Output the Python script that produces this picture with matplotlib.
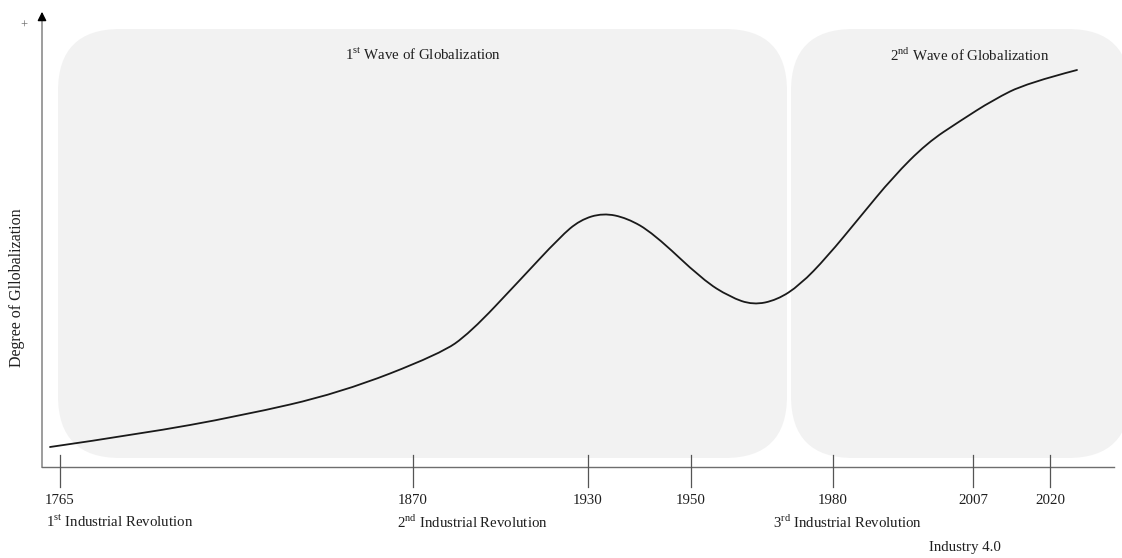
import matplotlib.pyplot as plt
from matplotlib.patches import FancyBboxPatch, PathPatch
from matplotlib.path import Path

# Fonte tipo Times (Liberation Serif) também para os sobrescritos
plt.rcParams['font.family'] = ['Liberation Serif', 'DejaVu Serif']
plt.rcParams['mathtext.fontset'] = 'custom'
plt.rcParams['mathtext.rm'] = 'Liberation Serif'

# Posição ao longo da linha do tempo (esquemática) e grau de globalização
curve_t = [8, 98, 198, 298, 398, 428, 478, 518, 538, 561, 585, 611,
           661, 688, 711, 735, 758, 785, 818, 851, 885, 918, 951, 985, 1035]
curve_g = [20, 33, 51, 74, 113, 134, 187, 230, 247, 254, 249, 234,
           187, 170, 162, 167, 182, 210, 250, 290, 324, 346, 367, 384, 397]

# Marcos do eixo x
tick_years = ['1765', '1870', '1930', '1950', '1980', '2007', '2020']
tick_t = [18, 371, 546, 649, 791, 931, 1008]

# Eventos (ano de referência, texto)
revolutions = [
    ('1765', r'1$^{\mathrm{st}}$ Industrial Revolution', 'left', -14, -55),
    ('1870', r'2$^{\mathrm{nd}}$ Industrial Revolution', 'left', -16, -55),
    ('1980', r'3$^{\mathrm{rd}}$ Industrial Revolution', 'center', 15, -55),
    ('2007', 'Industry 4.0', 'center', -8, -80),
]

# Ondas de globalização: (início, fim, título)
waves = [
    (16, 745, r'1$^{\mathrm{st}}$ Wave of Globalization'),
    (749, 1088, r'2$^{\mathrm{nd}}$ Wave of Globalization'),
]

fig = plt.figure(figsize=(11.22, 5.58), dpi=100)
ax = fig.add_axes([0, 0, 1, 1])
ax.set_xlim(-42, 1080)
ax.set_ylim(-91, 467)
ax.axis('off')

txt = '#1f1f1f'
fs = 10.7

# Caixas arredondadas
for ini, fim, titulo in waves:
    box = FancyBboxPatch((ini, 9), fim - ini, 429,
                         boxstyle='round,pad=0,rounding_size=62',
                         fc='#f2f2f2', ec='none', zorder=0)
    ax.add_patch(box)
    ax.text((ini + fim) / 2 if fim < 1080 else 928, 412, titulo,
            ha='center', va='center', fontsize=fs, color=txt)

# Eixos com setas
ax.plot([0, 0], [0, 450], color='#8c8c8c', lw=1.2, zorder=2)
ax.annotate('', xy=(0, 458), xytext=(0, 446),
            arrowprops=dict(arrowstyle='-|>', color='black', lw=1,
                            mutation_scale=13))
ax.plot([0, 1072], [0, 0], color='#6e6e6e', lw=1.0, zorder=2)
ax.annotate('', xy=(1081, 0), xytext=(1070, 0),
            arrowprops=dict(arrowstyle='-|>', color='black', lw=1,
                            mutation_scale=10))
ax.text(-18, 441, '+', ha='center', va='center', fontsize=9, color='#666666')
ax.text(-25, 179, 'Degree of Gllobalization', rotation=90,
        ha='center', va='center', fontsize=11.5, color=txt)

# Marcas e anos
for ano, t in zip(tick_years, tick_t):
    ax.plot([t, t], [12, -20], color='#555555', lw=0.9, zorder=2)
    ax.text(t, -34, ano, ha='center', va='center', fontsize=fs, color=txt)

for ano, rotulo, ha, dx, y in revolutions:
    t = tick_t[tick_years.index(ano)]
    ax.text(t + dx, y, rotulo, ha=ha, va='center', fontsize=fs, color=txt)

# Curva suave: pontos lidos como controles de Bézier quadráticas
pts = list(zip(curve_t, curve_g))
verts = [pts[0]]
codes = [Path.MOVETO]
for i in range(1, len(pts) - 1):
    mid = ((pts[i][0] + pts[i + 1][0]) / 2, (pts[i][1] + pts[i + 1][1]) / 2)
    if i == len(pts) - 2:
        mid = pts[-1]
    verts += [pts[i], mid]
    codes += [Path.CURVE3, Path.CURVE3]
ax.add_patch(PathPatch(Path(verts, codes), fc='none', ec='#1a1a1a',
                       lw=1.3, zorder=3, capstyle='round'))

fig.savefig('out.png', dpi=100)
